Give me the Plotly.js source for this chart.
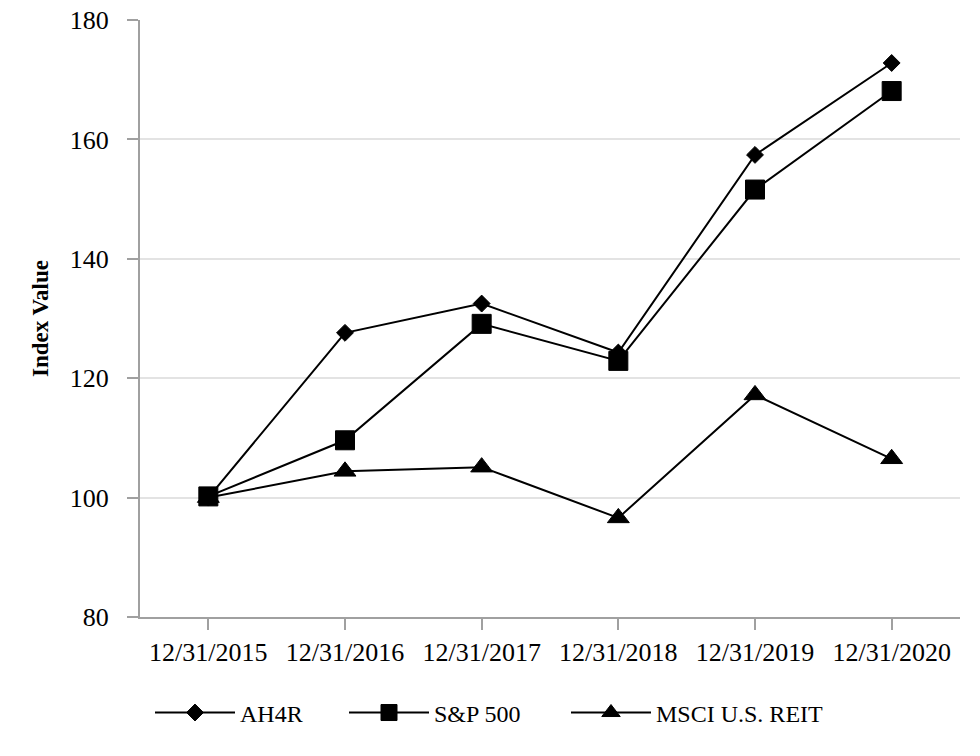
<!DOCTYPE html>
<html>
<head>
<meta charset="utf-8">
<script src="https://cdn.plot.ly/plotly-3.0.1.min.js"></script>
<style>html,body{margin:0;padding:0;background:#fff;}#chart{width:980px;height:756px;}</style>
</head>
<body>
<div id="chart"></div>
<script>
const categories = ["12/31/2015", "12/31/2016", "12/31/2017", "12/31/2018", "12/31/2019", "12/31/2020"];
const ah4r = [100.0, 127.6, 132.5, 124.3, 157.4, 172.8];
const sp500 = [100.2, 109.6, 129.1, 122.9, 151.6, 168.1];
const msciReit = [100.0, 104.4, 105.1, 96.6, 117.2, 106.5];
const yTicks = [80, 100, 120, 140, 160, 180];

const font = "'Liberation Serif', 'Times New Roman', serif";
function series(name, y, symbol, size, legendId) {
  return {
    type: "scatter", mode: "lines+markers", name: name,
    x: categories, y: y, legend: legendId,
    line: {color: "#000", width: 2},
    marker: {symbol: symbol, size: size, color: "#000", line: {color: "#000", width: 1}}
  };
}
const data = [
  series("AH4R", ah4r, "diamond", 13, "legend"),
  series("S&P 500", sp500, "square", 19, "legend2"),
  series("MSCI U.S. REIT", msciReit, "triangle-up", 19, "legend3")
];
function leg(xpx) {
  return {orientation: "h", x: (xpx - 140) / 820, xanchor: "left", y: -0.123, yanchor: "top",
          itemwidth: 80, bgcolor: "rgba(0,0,0,0)",
          font: {family: font, size: 24, color: "#000"}};
}
const layout = {
  width: 980, height: 756,
  margin: {l: 140, r: 20, t: 20, b: 139, autoexpand: false},
  paper_bgcolor: "#fff", plot_bgcolor: "#fff",
  font: {family: font, size: 20, color: "#000"},
  showlegend: true,
  legend: leg(150),
  legend2: leg(344),
  legend3: leg(566),
  xaxis: {
    type: "category", range: [-0.5, 5.5],
    showline: true, linecolor: "#a0a0a0", linewidth: 2,
    ticks: "outside", ticklen: 11, tickcolor: "#a0a0a0", tickwidth: 2,
    ticklabelstandoff: 0,
    showgrid: false, zeroline: false,
    tickfont: {family: font, size: 26, color: "#000"}
  },
  yaxis: {
    range: [80, 180], tickvals: yTicks,
    showline: true, linecolor: "#a0a0a0", linewidth: 2,
    ticks: "outside", ticklen: 11, tickcolor: "#a0a0a0", tickwidth: 2,
    ticklabelstandoff: 13,
    showgrid: true, gridcolor: "#e3e3e3", gridwidth: 2, zeroline: false,
    tickfont: {family: font, size: 26, color: "#000"},
    title: {text: "<b>Index Value</b>", font: {family: font, size: 23, color: "#000"}, standoff: 15}
  }
};
Plotly.newPlot("chart", data, layout, {displayModeBar: false, staticPlot: true});
</script>
</body>
</html>
